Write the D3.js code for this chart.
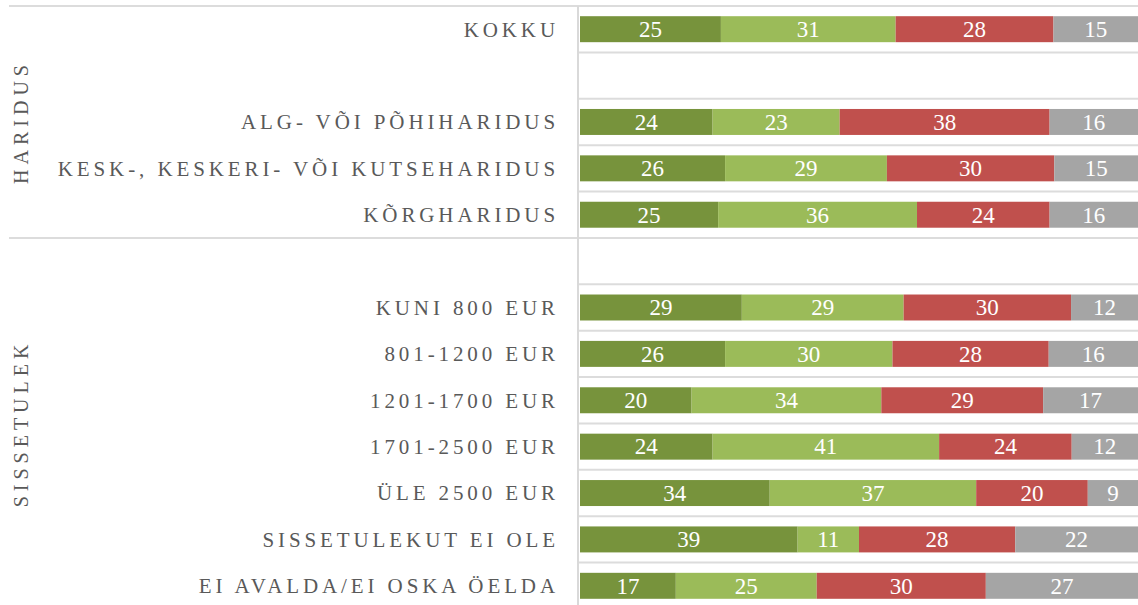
<!DOCTYPE html>
<html>
<head>
<meta charset="utf-8">
<script src="https://cdn.jsdelivr.net/npm/d3@7"></script>
<style>
  html, body { margin: 0; padding: 0; background: #ffffff; }
  svg { display: block; }
  svg text { font-family: "Liberation Serif", "Times New Roman", serif; }
</style>
</head>
<body>
<script>
// ---- data ----
const categories = [
  "KOKKU",
  "ALG- VÕI PÕHIHARIDUS",
  "KESK-, KESKERI- VÕI KUTSEHARIDUS",
  "KÕRGHARIDUS",
  "KUNI 800 EUR",
  "801-1200 EUR",
  "1201-1700 EUR",
  "1701-2500 EUR",
  "ÜLE 2500 EUR",
  "SISSETULEKUT EI OLE",
  "EI AVALDA/EI OSKA ÖELDA"
];
// row order including blank spacer rows
const slots = ["KOKKU", "_gap1", "ALG- VÕI PÕHIHARIDUS", "KESK-, KESKERI- VÕI KUTSEHARIDUS", "KÕRGHARIDUS",
  "_gap2", "KUNI 800 EUR", "801-1200 EUR", "1201-1700 EUR", "1701-2500 EUR", "ÜLE 2500 EUR",
  "SISSETULEKUT EI OLE", "EI AVALDA/EI OSKA ÖELDA"];
const groupNames = ["HARIDUS", "SISSETULEK"];
const groupFirst = ["KOKKU", "_gap2"];
const groupLast = ["KÕRGHARIDUS", "EI AVALDA/EI OSKA ÖELDA"];

const seriesKeys = ["s1", "s2", "s3", "s4"];
const s1 = [25, 24, 26, 25, 29, 26, 20, 24, 34, 39, 17];
const s2 = [31, 23, 29, 36, 29, 30, 34, 41, 37, 11, 25];
const s3 = [28, 38, 30, 24, 30, 28, 29, 24, 20, 28, 30];
const s4 = [15, 16, 15, 16, 12, 16, 17, 12, 9, 22, 27];
const colors = ["#77933C", "#9BBB59", "#C0504D", "#A5A5A5"];

// ---- layout ----
const W = 1138, H = 605;
const plotLeft = 580, plotRight = 1138, plotTop = 6, plotBottom = 609;
const axisX = 578;

const svg = d3.select("body").append("svg").attr("width", W).attr("height", H);

const table = categories.map((c, i) => ({ cat: c, s1: s1[i], s2: s2[i], s3: s3[i], s4: s4[i] }));
const stacked = d3.stack().keys(seriesKeys).offset(d3.stackOffsetExpand)(table);

const x = d3.scaleLinear().domain([0, 1]).range([plotLeft, plotRight]);
const y = d3.scaleBand().domain(slots).range([plotTop, plotBottom]).paddingInner(0.44).paddingOuter(0.22);
const step = y.step();
const bandTop = d => y(d) - y.paddingOuter() * step;

// grid lines between rows (inside plot)
const boundaries = d3.range(slots.length + 1).map(i => plotTop + i * step);
svg.append("g").selectAll("line").data(boundaries).join("line")
  .attr("x1", axisX).attr("x2", W)
  .attr("y1", d => d).attr("y2", d => d)
  .attr("stroke", "#DCDCDC").attr("stroke-width", 2);

// group separator lines spanning full width
const groupLines = [bandTop(groupFirst[0]), bandTop(groupFirst[1])];
svg.append("g").selectAll("line").data(groupLines).join("line")
  .attr("x1", 9).attr("x2", W)
  .attr("y1", d => d).attr("y2", d => d)
  .attr("stroke", "#DCDCDC").attr("stroke-width", 2);

// vertical axis line
svg.append("line")
  .attr("x1", axisX).attr("x2", axisX)
  .attr("y1", plotTop).attr("y2", H)
  .attr("stroke", "#D9D9D9").attr("stroke-width", 2);

// bars
const layers = svg.append("g").selectAll("g").data(stacked).join("g")
  .attr("fill", (d, i) => colors[i]);
layers.selectAll("rect").data(d => d).join("rect")
  .attr("x", d => x(d[0]))
  .attr("width", d => x(d[1]) - x(d[0]))
  .attr("y", d => y(d.data.cat))
  .attr("height", y.bandwidth());

// value labels
const labelG = svg.append("g");
stacked.forEach(layer => {
  labelG.selectAll(null).data(layer).join("text")
    .attr("x", d => (x(d[0]) + x(d[1])) / 2)
    .attr("y", d => y(d.data.cat) + y.bandwidth() / 2)
    .attr("dy", "0.34em")
    .attr("text-anchor", "middle")
    .attr("fill", "#ffffff")
    .style("font-size", "23px")
    .text(d => d.data[layer.key]);
});

// category labels
svg.append("g").selectAll("text").data(categories).join("text")
  .attr("x", 559)
  .attr("y", d => y(d) + y.bandwidth() / 2)
  .attr("dy", "0.35em")
  .attr("text-anchor", "end")
  .attr("fill", "#595959")
  .style("font-size", "21px")
  .style("letter-spacing", "3.9px")
  .text(d => d);

// group labels (rotated)
groupNames.forEach((g, i) => {
  const top = bandTop(groupFirst[i]);
  const bottom = bandTop(groupLast[i]) + step;
  const cy = (top + bottom) / 2;
  svg.append("text")
    .attr("transform", `translate(28,${cy}) rotate(-90)`)
    .attr("text-anchor", "middle")
    .attr("fill", "#595959")
    .style("font-size", "20px")
    .style("letter-spacing", "5px")
    .text(g);
});
</script>
</body>
</html>
